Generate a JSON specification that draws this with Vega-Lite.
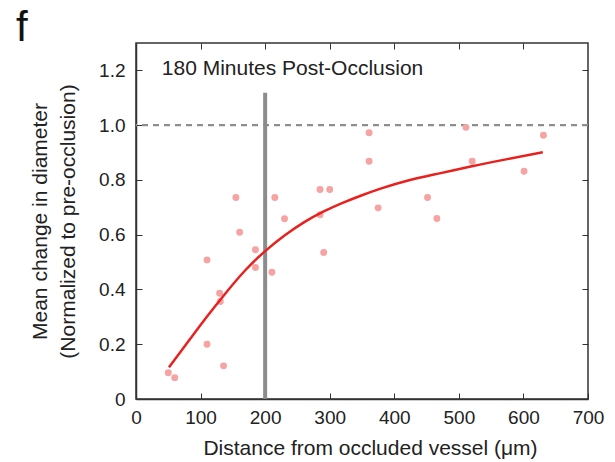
{
  "$schema": "https://vega.github.io/schema/vega-lite/v6.json",
  "width": 452,
  "height": 356,
  "autosize": {"type": "none"},
  "padding": {"left": 136, "top": 43, "right": 27, "bottom": 63},
  "background": "white",
  "config": {
    "font": "Liberation Sans",
    "view": {"stroke": "#333333", "strokeWidth": 1.5},
    "axis": {"grid": false, "labelFont": "Liberation Sans", "titleFont": "Liberation Sans", "labelColor": "#222222", "titleColor": "#222222", "titleFontWeight": "normal", "domainColor": "#333333", "tickColor": "#333333"}
  },
  "title": {"text": "f", "fontSize": 42, "fontWeight": "normal", "color": "#111111", "anchor": "start", "frame": "group", "dx": -120, "dy": 40, "offset": 0, "baseline": "alphabetic"},
  "datasets": {
    "points": [
      {"d": 50, "v": 0.096}, {"d": 60, "v": 0.078}, {"d": 110, "v": 0.508}, {"d": 110, "v": 0.2},
      {"d": 129.5, "v": 0.386}, {"d": 130.5, "v": 0.356}, {"d": 135.6, "v": 0.121}, {"d": 154.7, "v": 0.736},
      {"d": 160.5, "v": 0.609}, {"d": 185, "v": 0.545}, {"d": 185, "v": 0.48}, {"d": 210.5, "v": 0.463},
      {"d": 215, "v": 0.736}, {"d": 230, "v": 0.658}, {"d": 285, "v": 0.765}, {"d": 285, "v": 0.673},
      {"d": 290.7, "v": 0.535}, {"d": 300, "v": 0.765}, {"d": 361, "v": 0.972}, {"d": 361, "v": 0.868},
      {"d": 375, "v": 0.698}, {"d": 451.5, "v": 0.736}, {"d": 466, "v": 0.659}, {"d": 511, "v": 0.992},
      {"d": 520.6, "v": 0.868}, {"d": 601, "v": 0.832}, {"d": 631, "v": 0.963}
    ],
    "fit": [
      {"d": 51, "v": 0.116}, {"d": 80, "v": 0.207}, {"d": 110, "v": 0.301}, {"d": 140, "v": 0.390},
      {"d": 170, "v": 0.472}, {"d": 200, "v": 0.540}, {"d": 230, "v": 0.597}, {"d": 260, "v": 0.645},
      {"d": 290, "v": 0.684}, {"d": 320, "v": 0.716}, {"d": 350, "v": 0.744}, {"d": 380, "v": 0.769},
      {"d": 420, "v": 0.797}, {"d": 470, "v": 0.824}, {"d": 520, "v": 0.850}, {"d": 575, "v": 0.876},
      {"d": 630, "v": 0.901}
    ],
    "vline": [{"d": 200, "v0": 0, "v1": 1.118}],
    "hline": [{"v": 1.0}],
    "label": [{"d": 40, "v": 1.182, "t": "180 Minutes Post-Occlusion"}]
  },
  "layer": [
    {
      "data": {"name": "hline"},
      "mark": {"type": "rule", "color": "#8e8e8e", "strokeWidth": 2.3, "strokeDash": [6, 5]},
      "encoding": {"y": {"field": "v", "type": "quantitative", "scale": {"domain": [0, 1.3], "nice": false}, "axis": null}}
    },
    {
      "data": {"name": "vline"},
      "mark": {"type": "rule", "color": "#8c8c8c", "strokeWidth": 4},
      "encoding": {
        "x": {"field": "d", "type": "quantitative", "scale": {"domain": [0, 700], "nice": false},
              "axis": {"orient": "top", "labels": false, "title": null, "domain": false, "tickSize": -6, "values": [100, 200, 300, 400, 500, 600]}},
        "y": {"field": "v0", "type": "quantitative", "scale": {"domain": [0, 1.3], "nice": false},
              "axis": {"orient": "right", "labels": false, "title": null, "domain": false, "tickSize": -6, "values": [0.2, 0.4, 0.6, 0.8, 1.0, 1.2]}},
        "y2": {"field": "v1"}
      }
    },
    {
      "data": {"name": "points"},
      "mark": {"type": "circle", "color": "#f5a3a3", "opacity": 1, "size": 48},
      "encoding": {
        "x": {"field": "d", "type": "quantitative", "scale": {"domain": [0, 700], "nice": false},
              "axis": {"orient": "bottom", "title": "Distance from occluded vessel (μm)", "titleFontSize": 21, "titlePadding": 10, "titleX": 234, "labelFontSize": 19, "labelFlush": false, "tickSize": -6, "labelPadding": 15, "values": [0, 100, 200, 300, 400, 500, 600, 700], "domainWidth": 1.5}},
        "y": {"field": "v", "type": "quantitative", "scale": {"domain": [0, 1.3], "nice": false},
              "axis": {"orient": "left", "title": ["Mean change in diameter", "(Normalized to pre-occlusion)"], "titleFontSize": 21, "titleLineHeight": 28, "titlePadding": 20, "labelFontSize": 19, "labelFlush": false, "tickSize": -6, "labelPadding": 17, "values": [0, 0.2, 0.4, 0.6, 0.8, 1.0, 1.2], "labelExpr": "datum.value == 0 ? '0' : format(datum.value, '.1f')", "domainWidth": 1.5}}
      }
    },
    {
      "data": {"name": "fit"},
      "mark": {"type": "line", "color": "#e8211f", "strokeWidth": 2.5, "interpolate": "natural"},
      "encoding": {
        "x": {"field": "d", "type": "quantitative", "axis": null},
        "y": {"field": "v", "type": "quantitative", "axis": null}
      }
    },
    {
      "data": {"name": "label"},
      "mark": {"type": "text", "fontSize": 21, "align": "left", "baseline": "alphabetic", "color": "#222222", "font": "Liberation Sans"},
      "encoding": {
        "x": {"field": "d", "type": "quantitative", "axis": null},
        "y": {"field": "v", "type": "quantitative", "axis": null},
        "text": {"field": "t"}
      }
    }
  ],
  "resolve": {"axis": {"x": "independent", "y": "independent"}}
}
